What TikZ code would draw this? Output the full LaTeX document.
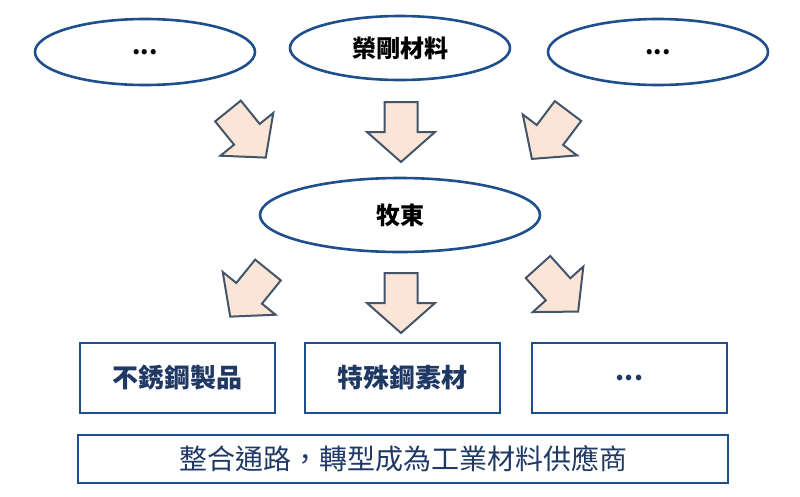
\documentclass[tikz,border=0pt]{standalone}
\usepackage{fontspec}
\usetikzlibrary{shapes.geometric}
\newfontfamily\cjk{Noto Sans CJK TC}
\definecolor{edge}{HTML}{1F4E8C}
\definecolor{arr}{HTML}{FBE5D6}
\definecolor{arrl}{HTML}{44546A}
\definecolor{txt}{HTML}{1F3864}
\begin{document}
\begin{tikzpicture}[x=1pt,y=-1pt,
  ell/.style={ellipse,draw=edge,line width=2.6pt,inner sep=0pt,font=\cjk\bfseries\fontsize{24}{28}\selectfont},
  box/.style={draw=edge,line width=2.2pt,inner sep=0pt,minimum width=195pt,minimum height=70pt,font=\cjk\bfseries\fontsize{26}{30}\selectfont,text=txt},
  barrow/.pic={\draw[fill=arr,draw=arrl,line width=2pt,line join=miter]
    (0,-16.5)--(30,-16.5)--(30,-34)--(60,0)--(30,34)--(30,16.5)--(0,16.5)--cycle;}]
\useasboundingbox (0,0) rectangle (800,496);
\node[ell,minimum width=220pt,minimum height=66pt] (e1) at (145,52) {...};
\node[ell,minimum width=220pt,minimum height=64pt] (e2) at (400,48) {榮剛材料};
\node[ell,minimum width=220pt,minimum height=66pt] (e3) at (658,52) {...};
\node[ell,minimum width=280pt,minimum height=74pt] (m) at (400,215) {牧東};
\node[box] (b1) at (177.5,378) {不銹鋼製品};
\node[box] (b2) at (402.5,378) {特殊鋼素材};
\node[box] (b3) at (629.5,378) {...};
\node[draw=edge,line width=2pt,minimum width=650pt,minimum height=48pt,inner sep=0pt,text=txt,font=\cjk\fontsize{28}{32}\selectfont] (bt) at (403,459) {整合通路，轉型成為工業材料供應商};
\pic[rotate=-51] at (228,111) {barrow};
\pic[rotate=-90] at (401,102) {barrow};
\pic[rotate=-127] at (568,111) {barrow};
\pic[rotate=-129] at (268,270) {barrow};
\pic[rotate=-90] at (401,273) {barrow};
\pic[rotate=-48] at (538,267) {barrow};
\end{tikzpicture}
\end{document}
